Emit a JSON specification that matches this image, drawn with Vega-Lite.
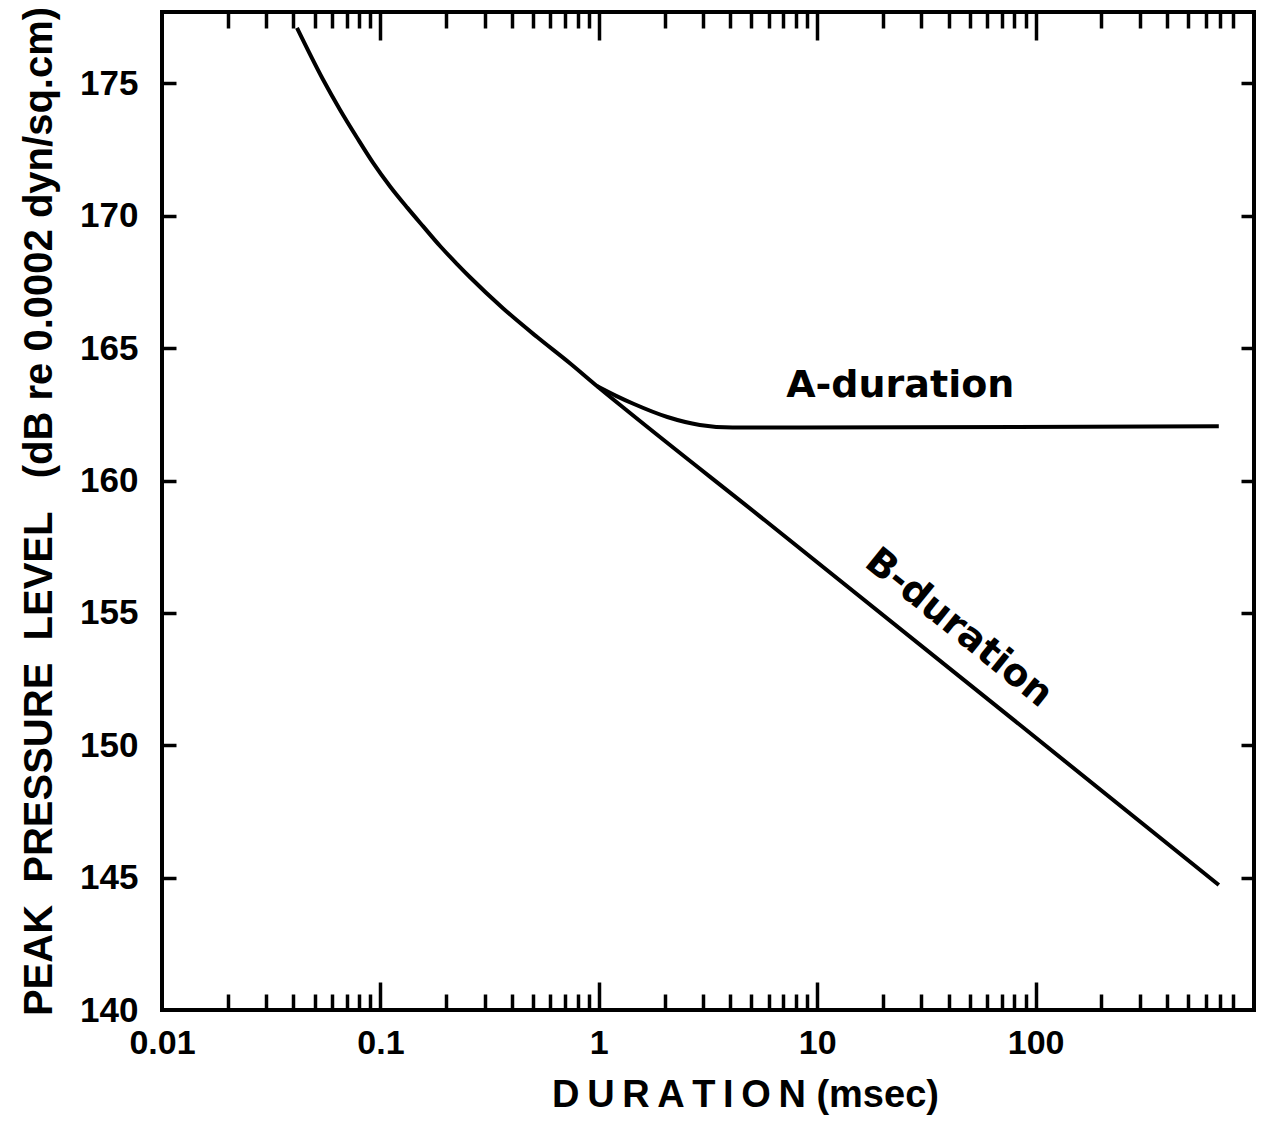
{
  "$schema": "https://vega.github.io/schema/vega-lite/v6.json",
  "width": 1092,
  "height": 998,
  "autosize": {"type": "none"},
  "padding": {"left": 162, "top": 12, "right": 9, "bottom": 123},
  "background": "white",
  "config": {
    "view": {"stroke": "black", "strokeWidth": 4},
    "axis": {
      "domain": false,
      "grid": false,
      "labelFont": "Liberation Sans",
      "labelFontWeight": "bold",
      "labelColor": "black",
      "tickColor": "black",
      "tickWidth": 3.5,
      "titleColor": "black",
      "titleFont": "Liberation Sans",
      "titleFontWeight": "bold"
    }
  },
  "datasets": {
    "curves": [
      {"series": "B", "t": 0.0415, "L": 177.1},
      {"series": "B", "t": 0.0546, "L": 175.15},
      {"series": "B", "t": 0.0654, "L": 174.0},
      {"series": "B", "t": 0.0782, "L": 172.95},
      {"series": "B", "t": 0.0926, "L": 172.0},
      {"series": "B", "t": 0.111, "L": 171.1},
      {"series": "B", "t": 0.133, "L": 170.3},
      {"series": "B", "t": 0.157, "L": 169.6},
      {"series": "B", "t": 0.188, "L": 168.85},
      {"series": "B", "t": 0.225, "L": 168.17},
      {"series": "B", "t": 0.258, "L": 167.67},
      {"series": "B", "t": 0.365, "L": 166.5},
      {"series": "B", "t": 0.522, "L": 165.42},
      {"series": "B", "t": 0.74, "L": 164.42},
      {"series": "B", "t": 0.98, "L": 163.57},
      {"series": "B", "t": 1.39, "L": 162.55},
      {"series": "B", "t": 5.5, "L": 158.63},
      {"series": "B", "t": 88, "L": 150.66},
      {"series": "B", "t": 690, "L": 144.72},
      {"series": "A", "t": 0.98, "L": 163.57},
      {"series": "A", "t": 1.2, "L": 163.2},
      {"series": "A", "t": 1.44, "L": 162.9},
      {"series": "A", "t": 2.06, "L": 162.4},
      {"series": "A", "t": 2.9, "L": 162.1},
      {"series": "A", "t": 4.1, "L": 162.0},
      {"series": "A", "t": 8, "L": 162.0},
      {"series": "A", "t": 690, "L": 162.05}
    ],
    "notes": [
      {"label": "A-duration", "t": 24.0, "L": 163.56, "angle": 0},
      {"label": "B-duration", "t": 44.3, "L": 154.42, "angle": 39}
    ]
  },
  "data": {"name": "curves"},
  "layer": [
    {
      "mark": {"type": "line", "color": "black", "strokeWidth": 4, "interpolate": "monotone"},
      "encoding": {
        "x": {
          "field": "t", "type": "quantitative",
          "scale": {"type": "log", "domain": [0.01, 1000], "nice": false},
          "axis": {
            "orient": "bottom",
            "values": [0.01, 0.1, 1, 10, 100],
            "ticks": false, "tickSize": 0,
            "labelExpr": "format(datum.value, '~g')",
            "labelFontSize": 34, "labelPadding": 16,
            "labelFlush": false, "labelOverlap": false,
            "title": "D\u2009U\u2009R\u2009A\u2009T\u2009I\u2009O\u2009N (msec)",
            "titleFontSize": 38, "titlePadding": 16, "titleX": 583
          }
        },
        "y": {
          "field": "L", "type": "quantitative",
          "scale": {"domain": [140, 177.7], "nice": false, "zero": false},
          "axis": {
            "orient": "left",
            "values": [140, 145, 150, 155, 160, 165, 170, 175],
            "ticks": false, "tickSize": 0,
            "labelFontSize": 35, "labelPadding": 24,
            "labelOverlap": false,
            "title": "PEAK\u00a0\u00a0PRESSURE\u00a0\u00a0LEVEL\u00a0\u00a0\u00a0(dB re 0.0002 dyn/sq.cm)",
            "titleFontSize": 40, "titlePadding": 20
          }
        },
        "detail": {"field": "series"}
      }
    },
    {
      "mark": {"type": "line", "strokeOpacity": 0},
      "encoding": {
        "x": {
          "field": "t", "type": "quantitative",
          "scale": {"type": "log", "domain": [0.01, 1000], "nice": false},
          "axis": {"orient": "bottom", "values": [0.1, 1, 10, 100], "labels": false, "tickSize": -28, "title": null}
        },
        "y": {
          "field": "L", "type": "quantitative",
          "scale": {"domain": [140, 177.7], "nice": false, "zero": false},
          "axis": {"orient": "left", "values": [145, 150, 155, 160, 165, 170, 175], "labels": false, "tickSize": -14, "title": null}
        },
        "detail": {"field": "series"}
      }
    },
    {
      "mark": {"type": "line", "strokeOpacity": 0},
      "encoding": {
        "x": {
          "field": "t", "type": "quantitative",
          "scale": {"type": "log", "domain": [0.01, 1000], "nice": false},
          "axis": {"orient": "bottom", "values": [0.02, 0.03, 0.04, 0.05, 0.06, 0.07, 0.08, 0.09, 0.2, 0.3, 0.4, 0.5, 0.6, 0.7, 0.8, 0.9, 2, 3, 4, 5, 6, 7, 8, 9, 20, 30, 40, 50, 60, 70, 80, 90, 200, 300, 400, 500, 600, 700, 800], "labels": false, "tickSize": -16, "title": null}
        },
        "y": {
          "field": "L", "type": "quantitative",
          "scale": {"domain": [140, 177.7], "nice": false, "zero": false},
          "axis": {"orient": "right", "values": [145, 150, 155, 160, 165, 170, 175], "labels": false, "tickSize": -13, "title": null}
        },
        "detail": {"field": "series"}
      }
    },
    {
      "mark": {"type": "line", "strokeOpacity": 0},
      "encoding": {
        "x": {
          "field": "t", "type": "quantitative",
          "scale": {"type": "log", "domain": [0.01, 1000], "nice": false},
          "axis": {"orient": "top", "values": [0.1, 1, 10, 100], "labels": false, "tickSize": -28, "title": null}
        },
        "y": {
          "field": "L", "type": "quantitative",
          "scale": {"domain": [140, 177.7], "nice": false, "zero": false},
          "axis": null
        },
        "detail": {"field": "series"}
      }
    },
    {
      "mark": {"type": "line", "strokeOpacity": 0},
      "encoding": {
        "x": {
          "field": "t", "type": "quantitative",
          "scale": {"type": "log", "domain": [0.01, 1000], "nice": false},
          "axis": {"orient": "top", "values": [0.02, 0.03, 0.04, 0.05, 0.06, 0.07, 0.08, 0.09, 0.2, 0.3, 0.4, 0.5, 0.6, 0.7, 0.8, 0.9, 2, 3, 4, 5, 6, 7, 8, 9, 20, 30, 40, 50, 60, 70, 80, 90, 200, 300, 400, 500, 600, 700, 800], "labels": false, "tickSize": -16, "title": null}
        },
        "y": {
          "field": "L", "type": "quantitative",
          "scale": {"domain": [140, 177.7], "nice": false, "zero": false},
          "axis": null
        },
        "detail": {"field": "series"}
      }
    },
    {
      "data": {"name": "notes"},
      "mark": {"type": "text", "font": "DejaVu Sans", "fontWeight": "bold", "fontSize": 38, "color": "black", "align": "center", "baseline": "middle"},
      "encoding": {
        "x": {"field": "t", "type": "quantitative", "scale": {"type": "log", "domain": [0.01, 1000], "nice": false}, "axis": null},
        "y": {"field": "L", "type": "quantitative", "scale": {"domain": [140, 177.7], "nice": false, "zero": false}, "axis": null},
        "text": {"field": "label"},
        "angle": {"field": "angle", "type": "quantitative", "scale": null}
      }
    }
  ],
  "resolve": {"axis": {"x": "independent", "y": "independent"}}
}
